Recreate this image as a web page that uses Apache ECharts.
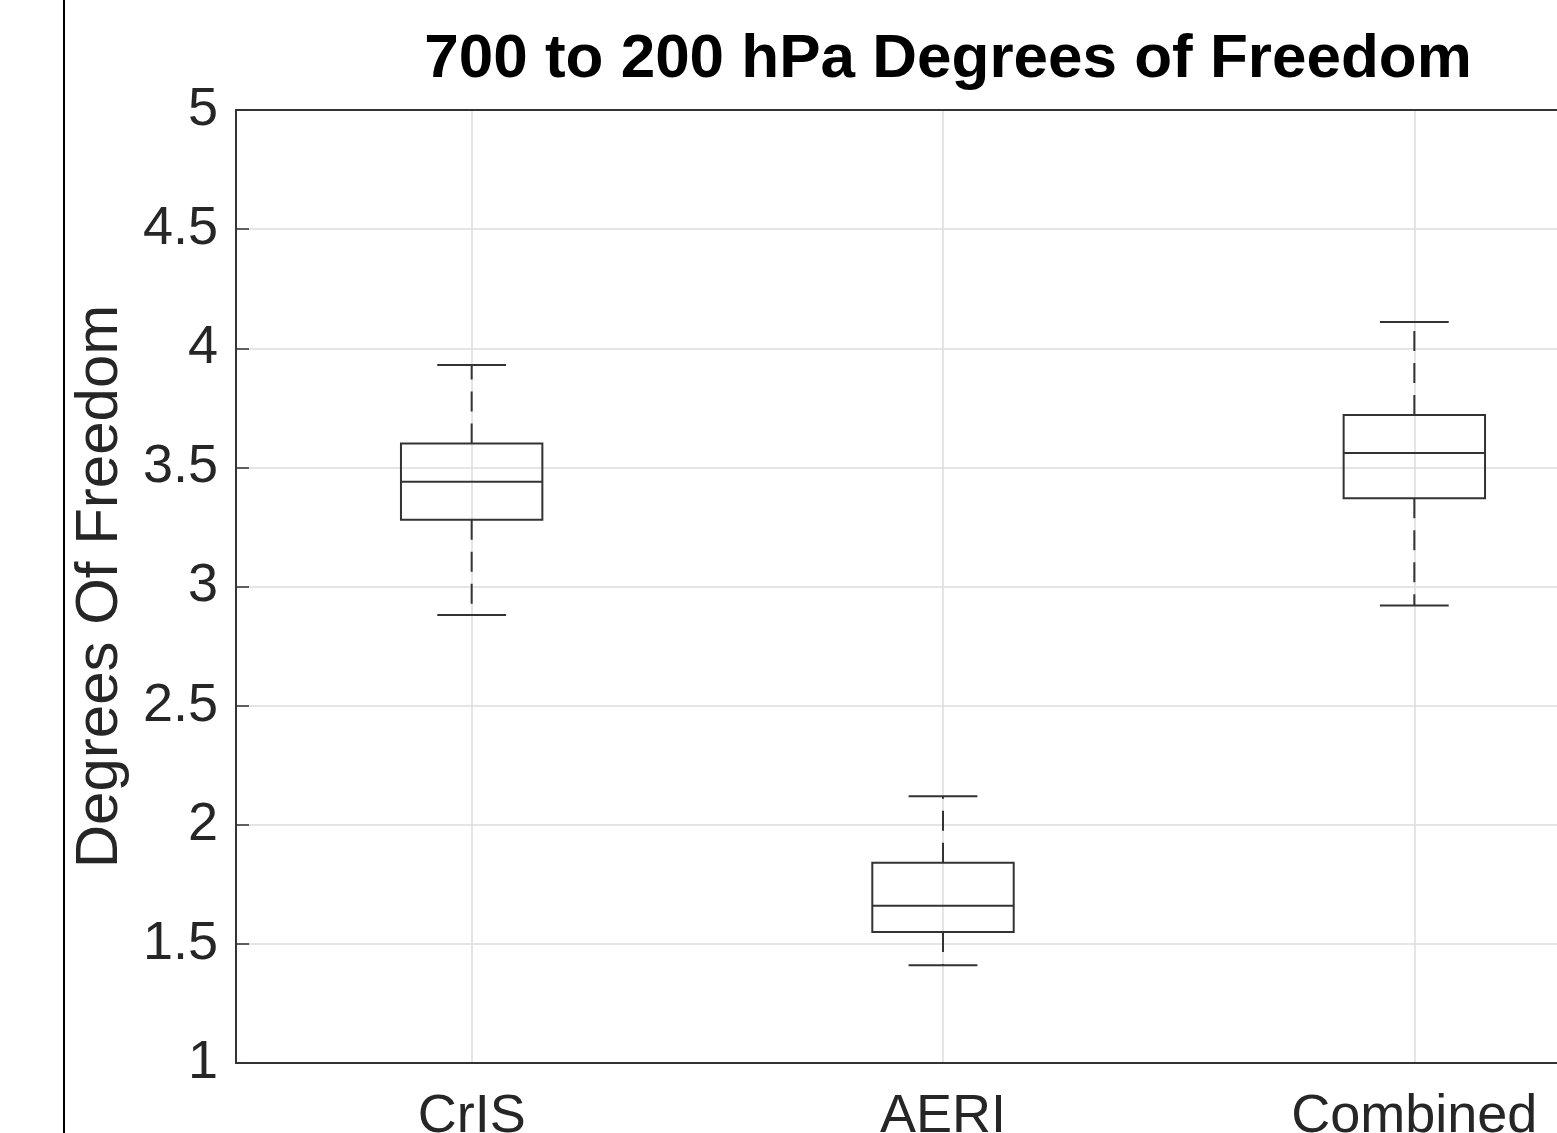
<!DOCTYPE html>
<html>
<head>
<meta charset="utf-8">
<script src="https://cdn.jsdelivr.net/npm/echarts@6/dist/echarts.min.js"></script>
<style>
html, body { margin: 0; padding: 0; background: #fff; }
#main { width: 1557px; height: 1133px; }
</style>
</head>
<body>
<div id="main"></div>
<script>
// box statistics
const categories = ['CrIS', 'AERI', 'Combined'];
const whiskerLow = [2.88, 1.41, 2.92];
const q1 = [3.28, 1.55, 3.37];
const median = [3.44, 1.66, 3.56];
const q3 = [3.60, 1.84, 3.72];
const whiskerHigh = [3.93, 2.12, 4.11];
const yMin = 1, yMax = 5, yStep = 0.5;

const ink = '#333';
const font = 'Liberation Sans, Arial, Helvetica, sans-serif';

const myChart = echarts.init(document.getElementById('main'));

function renderBox(params, api) {
  const i = api.value(0);
  const band = api.size([1, 0])[0];
  const x = api.coord([i, api.value(3)])[0];
  const hb = band * 0.15;
  const hc = band * 0.073;
  const yLo = api.coord([i, api.value(1)])[1];
  const yQ1 = api.coord([i, api.value(2)])[1];
  const yMed = api.coord([i, api.value(3)])[1];
  const yQ3 = api.coord([i, api.value(4)])[1];
  const yHi = api.coord([i, api.value(5)])[1];
  const solid = { stroke: ink, lineWidth: 2, fill: null };
  const dashed = { stroke: ink, lineWidth: 2, lineDash: [20, 12] };
  return {
    type: 'group',
    children: [
      { type: 'line', shape: { x1: x, y1: yQ3, x2: x, y2: yHi }, style: dashed },
      { type: 'line', shape: { x1: x, y1: yQ1, x2: x, y2: yLo }, style: dashed },
      { type: 'line', shape: { x1: x - hc, y1: yHi, x2: x + hc, y2: yHi }, style: solid },
      { type: 'line', shape: { x1: x - hc, y1: yLo, x2: x + hc, y2: yLo }, style: solid },
      { type: 'rect', shape: { x: x - hb, y: yQ3, width: hb * 2, height: yQ1 - yQ3 }, style: solid },
      { type: 'line', shape: { x1: x - hb, y1: yMed, x2: x + hb, y2: yMed }, style: solid }
    ]
  };
}

let option = {
  backgroundColor: '#fff',
  animation: false,
  title: {
    text: '700 to 200 hPa Degrees of Freedom',
    left: 943,
    textAlign: 'center',
    top: 24,
    textStyle: { fontFamily: font, fontSize: 62, fontWeight: 'bold', color: '#000' }
  },
  grid: { left: 236, top: 110, width: 1414, bottom: 70, outerBoundsMode: 'none' },
  graphic: [
    { type: 'line', shape: { x1: 64, y1: 0, x2: 64, y2: 1133 }, style: { stroke: '#000', lineWidth: 2 } }
  ],
  xAxis: [
    {
      type: 'category',
      data: categories,
      position: 'bottom',
      axisLine: { lineStyle: { color: ink, width: 2 } },
      axisTick: { inside: true, alignWithLabel: true, length: 11, lineStyle: { color: ink, width: 2 } },
      axisLabel: { fontFamily: font, fontSize: 54, color: '#262626', margin: 27 },
      splitLine: { show: true, alignWithLabel: true, lineStyle: { color: '#dcdcdc', width: 1.5 } }
    },
    {
      type: 'category',
      data: categories,
      position: 'top',
      axisLine: { lineStyle: { color: ink, width: 2 } },
      axisTick: { inside: true, alignWithLabel: true, length: 11, lineStyle: { color: ink, width: 2 } },
      axisLabel: { show: false },
      splitLine: { show: false }
    }
  ],
  yAxis: {
    type: 'value',
    min: yMin,
    max: yMax,
    interval: yStep,
    name: 'Degrees Of Freedom',
    nameLocation: 'middle',
    nameGap: 106,
    nameTextStyle: { fontFamily: font, fontSize: 60, color: '#262626' },
    axisLine: { show: true, lineStyle: { color: ink, width: 2 } },
    axisTick: { show: true, inside: true, length: 13, lineStyle: { color: ink, width: 1.5 } },
    axisLabel: { fontFamily: font, fontSize: 54, color: '#262626', margin: 18 },
    splitLine: { show: true, lineStyle: { color: '#dcdcdc', width: 1.5 } }
  },
  series: [
    {
      type: 'custom',
      renderItem: renderBox,
      encode: { x: 0, y: [1, 2, 3, 4, 5] },
      data: categories.map((c, i) => [i, whiskerLow[i], q1[i], median[i], q3[i], whiskerHigh[i]]),
      z: 5
    }
  ]
};
myChart.setOption(option);
</script>
</body>
</html>
